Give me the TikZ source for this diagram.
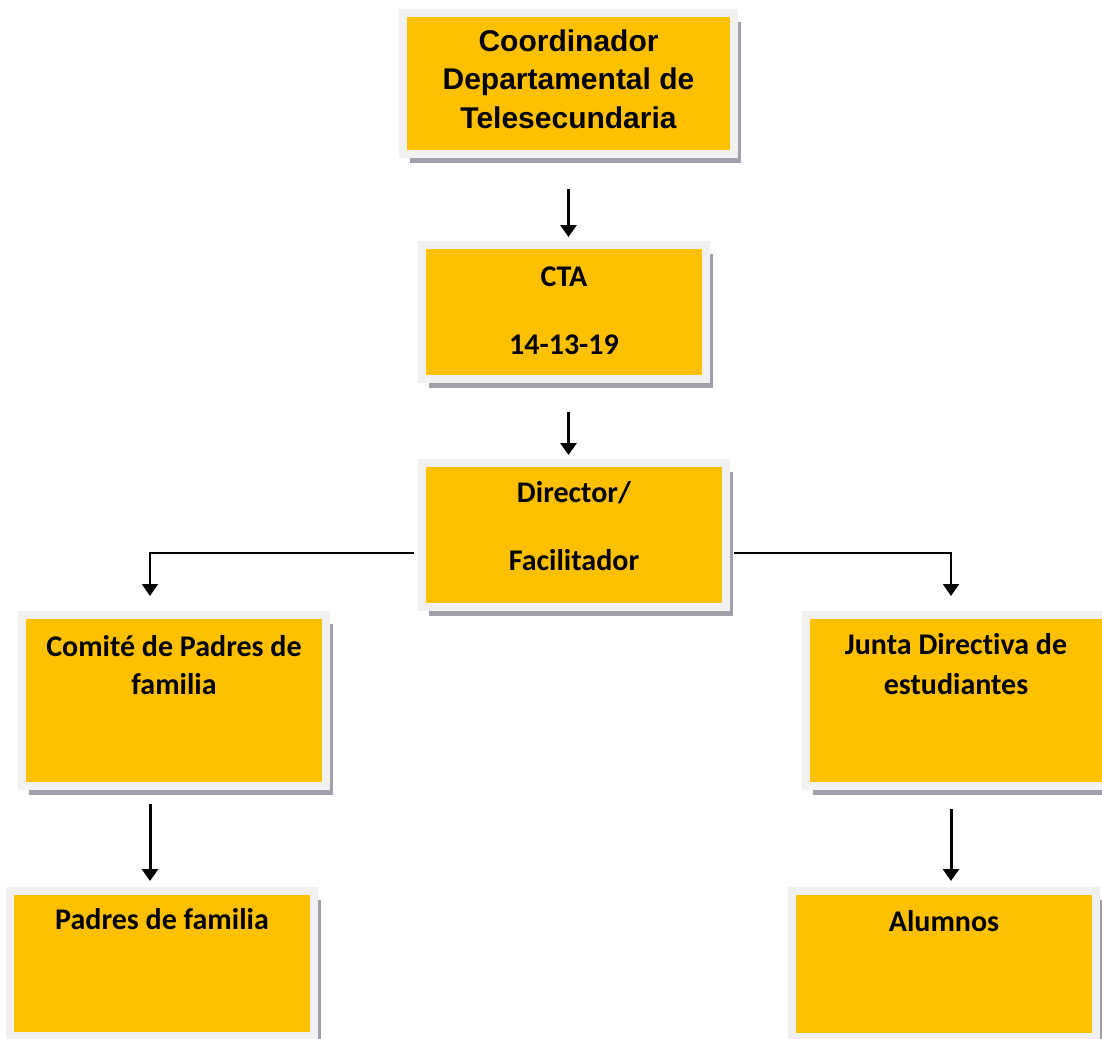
\documentclass[tikz,border=0pt]{standalone}
\usepackage{fontspec}
\usepackage{tikz}
\usetikzlibrary{arrows.meta,shadows}
\newfontfamily\arialfont{Liberation Sans}
\newfontfamily\calibrifont[Ligatures=NoCommon]{Carlito}
\definecolor{boxgold}{HTML}{FFC000}
\definecolor{boxframe}{HTML}{F1F1F1}
\definecolor{boxshadow}{HTML}{A0A0AA}
\newcommand{\boxtext}[4]{\parbox[c][#2][t]{#1}{\centering\vspace*{#3}#4}}

\begin{document}
\begin{tikzpicture}[x=1pt,y=-1pt,>={Triangle[width=16pt,length=12pt]},org box/.style={draw=boxframe,line width=8pt,fill=boxgold,inner sep=0pt,drop shadow={shadow xshift=7pt,shadow yshift=-9pt,fill=boxshadow,opacity=1},font=\calibrifont\bfseries\fontsize{30}{38}\selectfont},link/.style={->,line width=3pt,shorten >=4pt}]
	\useasboundingbox (0,0) rectangle (1102,1038);
	\node[org box] (coord) at (568.5,83.5) {\boxtext{331pt}{141pt}{16.5pt}{\arialfont\fontsize{30}{38.5}\selectfont Coordinador\\Departamental de\\Telesecundaria}};
	\node[org box] (cta) at (564,312) {\boxtext{284pt}{134pt}{22pt}{CTA\\[30pt]14-13-19}};
	\node[org box] (dir) at (574,535) {\boxtext{304pt}{144pt}{18.5pt}{Director/\\[30pt]Facilitador}};
	\node[org box] (comite) at (174,700.5) {\boxtext{304pt}{171pt}{20.5pt}{Comit\'e de Padres de\\familia}};
	\node[org box] (junta) at (956,700.5) {\boxtext{300pt}{171pt}{18.5pt}{Junta Directiva de\\[2pt]estudiantes}};
	\node[org box] (padres) at (162,963.5) {\boxtext{304pt}{145pt}{17.5pt}{Padres de familia}};
	\node[org box] (alumnos) at (944,964) {\boxtext{304pt}{146pt}{19.5pt}{Alumnos}};
	
	\draw[link,shorten <=31pt] (coord.south) -- (coord.south |- cta.north);
	\draw[link,shorten <=29pt] (coord.south |- cta.south) -- (coord.south |- dir.north);
	\draw[link,line width=2pt,shorten <=4pt,shorten >=15pt] ([yshift=-18pt]dir.west) -| ([xshift=-24pt]comite.north);
	\draw[link,line width=2pt,shorten <=4pt,shorten >=15pt] ([yshift=-18pt]dir.east) -| ([xshift=-5pt]junta.north);
	\draw[link,shorten <=14pt,shorten >=6pt] ([xshift=-24pt]comite.south) -- ([xshift=-24pt]comite.south |- padres.north);
	\draw[link,shorten <=19pt,shorten >=6pt] ([xshift=-5pt]junta.south) -- ([xshift=-5pt]junta.south |- alumnos.north);
\end{tikzpicture}
\end{document}
